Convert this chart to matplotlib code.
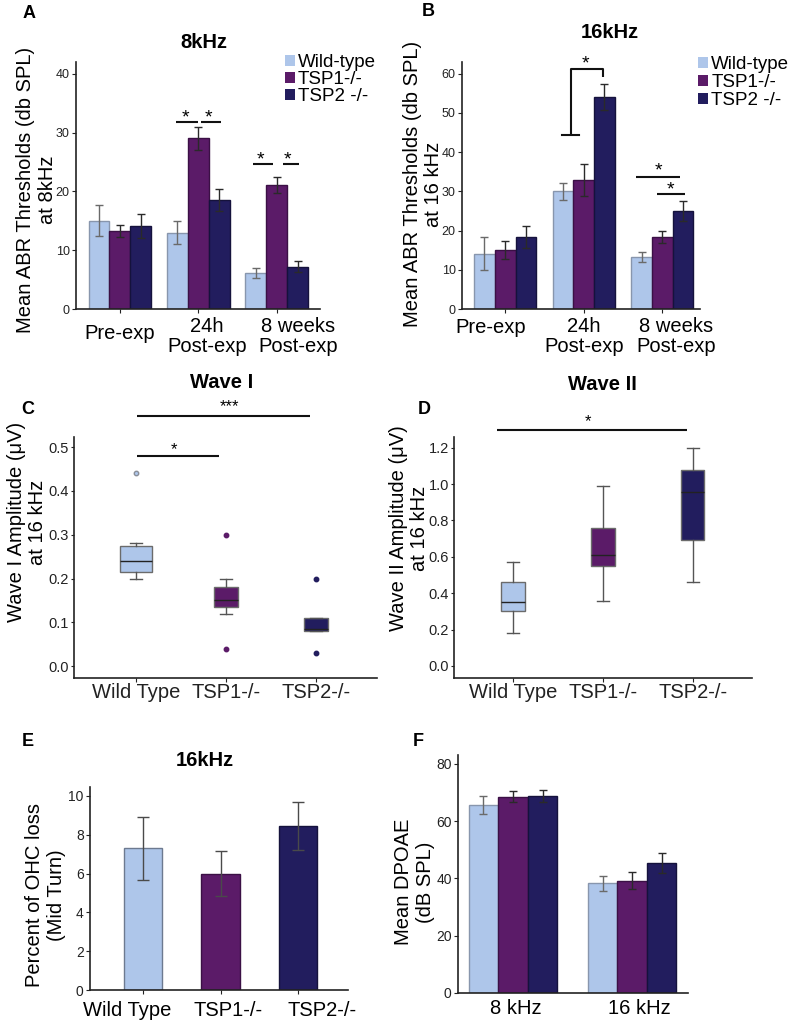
"""
Figura compuesta: umbrales ABR, amplitudes de onda I/II, perdida de OHC y DPOAE
"""
import numpy as np
import matplotlib.pyplot as plt
from matplotlib.patches import Patch

plt.rcParams['font.family'] = ['Liberation Sans', 'DejaVu Sans']

# Grupos y colores
grupos = ['Wild-type', 'TSP1-/-', 'TSP2 -/-']
colores = ['#aec6ea', '#5b1b68', '#221d5e']
bordes = ['#8896ad', '#3b1045', '#15123c']
err_col = ['#6a6a6a', '#2a2a2a', '#2a2a2a']

# A: ABR 8 kHz
tiempos = ['Pre-exp', '24h\nPost-exp', '8 weeks\nPost-exp']
abr8_wt = [15.0, 13.0, 6.1]
abr8_wt_err = [2.6, 2.0, 0.8]
abr8_tsp1 = [13.3, 29.0, 21.1]
abr8_tsp1_err = [1.0, 1.9, 1.4]
abr8_tsp2 = [14.1, 18.5, 7.2]
abr8_tsp2_err = [2.0, 1.9, 0.9]

# B: ABR 16 kHz
abr16_wt = [14.1, 30.0, 13.3]
abr16_wt_err = [4.2, 2.25, 1.25]
abr16_tsp1 = [15.0, 33.0, 18.3]
abr16_tsp1_err = [2.25, 4.1, 1.5]
abr16_tsp2 = [18.3, 54.0, 25.0]
abr16_tsp2_err = [2.85, 3.35, 2.6]

# C: Wave I (cajas)
genotipos = ['Wild Type', 'TSP1-/-', 'TSP2-/-']
w1_med = [0.24, 0.15, 0.085]
w1_q1 = [0.215, 0.135, 0.08]
w1_q3 = [0.275, 0.18, 0.11]
w1_lo = [0.20, 0.12, 0.08]
w1_hi = [0.28, 0.20, 0.11]
w1_out = [[0.44], [0.30, 0.04], [0.20, 0.03]]

# D: Wave II (cajas)
w2_med = [0.35, 0.61, 0.955]
w2_q1 = [0.305, 0.55, 0.695]
w2_q3 = [0.46, 0.76, 1.08]
w2_lo = [0.18, 0.36, 0.46]
w2_hi = [0.57, 0.99, 1.20]

# E: OHC loss
ohc = [7.3, 6.0, 8.45]
ohc_err = [1.62, 1.14, 1.24]

# F: DPOAE
frecs = ['8 kHz', '16 kHz']
dp_wt = [65.7, 38.3]
dp_wt_err = [3.1, 2.6]
dp_tsp1 = [68.5, 39.2]
dp_tsp1_err = [1.9, 3.0]
dp_tsp2 = [68.9, 45.4]
dp_tsp2_err = [2.1, 3.4]

W, H = 795, 1024
fig = plt.figure(figsize=(W / 100, H / 100), dpi=100)


def caja(l, t, r, b):
    return [l / W, 1 - b / H, (r - l) / W, (b - t) / H]


def texto(x, y, s, **kw):
    fig.text(x / W, 1 - y / H, s, ha='center', va='center', **kw)


def estilo(ax, fs, largo=3):
    for s in ['top', 'right']:
        ax.spines[s].set_visible(False)
    for s in ['left', 'bottom']:
        ax.spines[s].set_linewidth(1.2)
        ax.spines[s].set_color('#222222')
    ax.tick_params(labelsize=fs, length=largo, width=0.8, colors='#222222', pad=1.5)


def barras(ax, series, errores, ancho, cap):
    x = np.arange(len(series[0]))
    for k in range(3):
        ax.bar(x + (k - 1) * ancho, series[k], ancho, yerr=errores[k],
               color=colores[k], edgecolor=bordes[k], linewidth=1,
               error_kw=dict(ecolor=err_col[k], elinewidth=1, capsize=cap, capthick=1))


def etiquetas(ax, labels, dx, dy, fs=14.5):
    for i, lab in enumerate(labels):
        ax.annotate(lab, (i + dx[i], 0), xycoords=('data', 'axes fraction'),
                    xytext=(0, -dy[i]), textcoords='offset points',
                    ha='center', va='center', fontsize=fs, linespacing=1.1,
                    annotation_clip=False)


def sig(ax, xs, ys, sx, sy, s='*', fs=14, off=0.0):
    ax.plot(xs, ys, color='#111111', lw=1.5, clip_on=False, solid_capstyle='butt')
    ax.annotate(s, (sx, sy), xytext=(0, off), textcoords='offset points',
                ha='center', va='baseline', fontsize=fs, annotation_clip=False)


def leyenda(x, y, esp):
    mano = [Patch(facecolor=c) for c in colores]
    fig.legend(mano, grupos, loc='upper left', bbox_to_anchor=(x / W, 1 - y / H),
               frameon=False, borderpad=0, borderaxespad=0, handlelength=0.55,
               handleheight=0.55, handletextpad=0.15, labelspacing=esp, fontsize=13.5)


# ---- A ----
axA = fig.add_axes(caja(76, 62, 320, 309))
barras(axA, [abr8_wt, abr8_tsp1, abr8_tsp2],
       [abr8_wt_err, abr8_tsp1_err, abr8_tsp2_err], 0.267, 3)
axA.set_xlim(-0.56, 2.55)
axA.set_ylim(0, 42)
axA.set_yticks([0, 10, 20, 30, 40])
axA.set_xticks([0, 1, 2], ['', '', ''])
estilo(axA, 9)
etiquetas(axA, tiempos, [0, 0.11, 0.27], [17.3, 19.8, 19.8])
sig(axA, [0.712, 0.994], [31.8, 31.8], 0.84, 31.8)
sig(axA, [1.028, 1.292], [31.8, 31.8], 1.13, 31.8)
sig(axA, [1.69, 1.955], [24.6, 24.6], 1.79, 24.6)
sig(axA, [2.08, 2.28], [24.6, 24.6], 2.13, 24.6)
leyenda(285, 54, 0.0)

# ---- B ----
axB = fig.add_axes(caja(462, 62, 700, 309))
barras(axB, [abr16_wt, abr16_tsp1, abr16_tsp2],
       [abr16_wt_err, abr16_tsp1_err, abr16_tsp2_err], 0.264, 3)
axB.set_xlim(-0.55, 2.48)
axB.set_ylim(0, 63)
axB.set_yticks([0, 10, 20, 30, 40, 50, 60])
axB.set_xticks([0, 1, 2], ['', '', ''])
estilo(axB, 9)
etiquetas(axB, tiempos, [-0.18, 0, 0.18], [13, 19.8, 19.8])
axB.plot([0.729, 0.945], [44.3, 44.3], color='#111111', lw=1.5)
sig(axB, [0.835, 0.835, 1.25, 1.25], [44.3, 61.3, 61.3, 59.1], 1.02, 61.3, off=0.5)
sig(axB, [1.66, 2.23], [33.6, 33.6], 1.953, 33.6, off=1)
sig(axB, [1.93, 2.29], [29.3, 29.3], 2.106, 29.3, off=-0.5)
leyenda(698, 56, 0.05)


# ---- C y D: cajas ----
def cajas(ax, med, q1, q3, lo, hi, out, anchos):
    stats = []
    for i in range(3):
        stats.append(dict(med=med[i], q1=q1[i], q3=q3[i], whislo=lo[i],
                          whishi=hi[i], fliers=out[i]))
    bp = ax.bxp(stats, positions=[1, 2, 3], widths=anchos, patch_artist=True,
                capwidths=0.13, showfliers=True,
                whiskerprops=dict(color='#555555', lw=1),
                capprops=dict(color='#555555', lw=1),
                medianprops=dict(color='#222222', lw=1))
    for i in range(3):
        bp['boxes'][i].set_facecolor(colores[i])
        bp['boxes'][i].set_edgecolor('#6b6b6b')
        bp['boxes'][i].set_linewidth(1)
        f = bp['fliers'][i]
        f.set_marker('o')
        f.set_markersize(3.2)
        f.set_markerfacecolor(colores[i])
        f.set_markeredgecolor('#8a8f99' if i == 0 else colores[i])
    return bp


axC = fig.add_axes(caja(74, 437, 377, 678))
cajas(axC, w1_med, w1_q1, w1_q3, w1_lo, w1_hi, w1_out, [0.36, 0.26, 0.26])
axC.set_xlim(0.31, 3.68)
axC.set_ylim(-0.027, 0.523)
axC.set_yticks([0, 0.1, 0.2, 0.3, 0.4, 0.5], ['0.0', '0.1', '0.2', '0.3', '0.4', '0.5'])
axC.set_xticks([1, 2, 3], genotipos)
estilo(axC, 10.5, largo=2)
axC.tick_params(axis='x', labelsize=14.5, pad=0.5, length=3)
sig(axC, [1.01, 2.93], [0.572, 0.572], 2.04, 0.572, s='***', fs=12, off=3.5)
sig(axC, [1.01, 1.92], [0.48, 0.48], 1.42, 0.48, fs=12, off=1)

axD = fig.add_axes(caja(454, 437, 752, 678))
cajas(axD, w2_med, w2_q1, w2_q3, w2_lo, w2_hi, [[], [], []], [0.26, 0.26, 0.26])
axD.set_xlim(0.344, 3.66)
axD.set_ylim(-0.066, 1.259)
axD.set_yticks([0, 0.2, 0.4, 0.6, 0.8, 1.0, 1.2],
               ['0.0', '0.2', '0.4', '0.6', '0.8', '1.0', '1.2'])
axD.set_xticks([1, 2, 3], genotipos)
estilo(axD, 10.5, largo=2)
axD.tick_params(axis='x', labelsize=14.5, pad=0.5, length=3)
sig(axD, [0.82, 2.94], [1.297, 1.297], 1.83, 1.297, fs=12, off=3)

# ---- E ----
axE = fig.add_axes(caja(90, 787, 348, 990))
axE.bar([0, 1, 2], ohc, 0.5, yerr=ohc_err, color=colores,
        edgecolor=['#6d7a90', '#3b1045', '#15123c'], linewidth=1,
        error_kw=dict(ecolor='#4a4a4a', elinewidth=1, capsize=4.5, capthick=1))
axE.set_xlim(-0.684, 2.645)
axE.set_ylim(0, 10.46)
axE.set_yticks([0, 2, 4, 6, 8, 10])
axE.set_xticks([0, 1, 2], ['', '', ''])
estilo(axE, 10)
etiquetas(axE, genotipos, [-0.21, 0.1, 0.31], [14.4, 14.4, 14.4])

# ---- F ----
axF = fig.add_axes(caja(458, 755, 688, 993))
barras(axF, [dp_wt, dp_tsp1, dp_tsp2],
       [dp_wt_err, dp_tsp1_err, dp_tsp2_err], 0.248, 3)
axF.set_xlim(-0.462, 1.47)
axF.set_ylim(0, 83.1)
axF.set_yticks([0, 20, 40, 60, 80])
axF.set_xticks([0, 1], ['', ''])
estilo(axF, 10)
axF.tick_params(axis='x', length=0)
etiquetas(axF, frecs, [0.02, 0.06], [10.8, 10.8])

# ---- Titulos, letras y ejes y ----
for x, y, s in [(204, 43, '8kHz'), (610, 32, '16kHz'), (222, 383, 'Wave I'),
                (602, 385, 'Wave II'), (205, 760, '16kHz')]:
    texto(x, y, s, fontsize=14.5, fontweight='bold')
for x, y, s in [(29, 13, 'A'), (428, 12, 'B'), (28, 410, 'C'), (424, 409, 'D'),
                (28, 742, 'E'), (418, 742, 'F')]:
    texto(x, y, s, fontsize=13, fontweight='bold')
for x, y, s in [(36.5, 190, 'Mean ABR Thresholds (db SPL)\nat 8kHz'),
                (423, 184, 'Mean ABR Thresholds (db SPL)\nat 16 kHz'),
                (27, 522, 'Wave I Amplitude (\u03bcV)\nat 16 kHz'),
                (409, 528, 'Wave II Amplitude (\u03bcV)\nat 16 kHz'),
                (45.5, 895, 'Percent of OHC loss\n(Mid Turn)'),
                (414.5, 882, 'Mean DPOAE\n(dB SPL)')]:
    texto(x, y, s, fontsize=14.5, rotation=90, multialignment='center', linespacing=1.15)

fig.savefig('out.png', dpi=100)
